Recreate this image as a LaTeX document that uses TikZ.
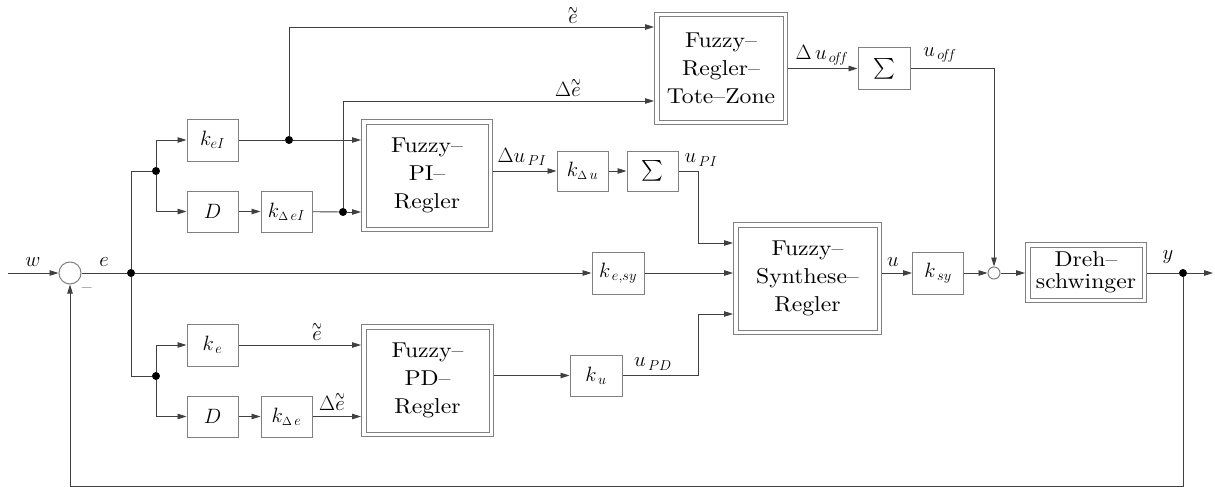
\documentclass[tikz,border=0pt]{standalone}
\usepackage{amsmath}
\usepackage{graphicx}
\usepackage{fontspec}
\newfontfamily\widefont{lmroman10-regular.otf}[FakeStretch=1.1,Ligatures=TeX]
\usetikzlibrary{arrows.meta,calc}
\definecolor{boxc}{gray}{0.5}
\definecolor{linec}{gray}{0.25}
\newcommand{\tle}{\mathord{\vbox{\offinterlineskip\halign{\hfil##\hfil\cr\scalebox{0.6}[1.2]{$\sim$}\cr\noalign{\kern-1.5pt}$e$\cr}}}}
\tikzset{
 x=1pt,y=-1pt,
 arr/.style={-{Triangle[length=9pt,width=5.5pt]}, draw=linec, line width=0.9pt},
 ln/.style={draw=linec, line width=0.9pt},
 blk/.style={draw=boxc, line width=1pt, inner sep=0pt, minimum width=51pt, minimum height=41pt, font=\huge},
 dblk/.style={draw=boxc, line width=1pt, double=white, double distance=3.5pt, inner sep=0pt, outer sep=2.75pt, align=center, font=\widefont\fontsize{21.5}{28}\selectfont},
 dot/.style={circle, fill=black, inner sep=0pt, minimum size=8pt},
 sumc/.style={circle, draw=boxc, line width=1pt, inner sep=0pt},
 lbl/.style={inner sep=0pt, font=\huge},
}
\begin{document}
\begin{tikzpicture}
\useasboundingbox (0,0) rectangle (1215,487);
% blocks
\node[blk, minimum height=42pt] (keI) at (212.5,140) {$k_{eI}$};
\node[blk] (D1) at (212.5,211.5) {$D$};
\node[blk] (kDeI) at (286.5,211.5) {$k_{\scriptscriptstyle\Delta\scriptstyle\,eI}$};
\node[blk, minimum height=40pt] (kDu) at (582.5,171) {$k_{\scriptscriptstyle\Delta\scriptstyle\,u}$};
\node[blk, minimum height=40pt] (S1) at (652.5,171) {$\sum$};
\node[blk, minimum width=52pt] (S2) at (884,68.5) {$\sum$};
\node[blk, minimum width=52pt, minimum height=42pt] (kesy) at (618,273) {$k_{\,e,sy}$};
\node[blk, minimum height=42pt] (ksy) at (938,273) {$k_{\,sy}$};
\node[blk, minimum height=42pt] (ke) at (212.5,345) {$k_{\,e}$};
\node[blk] (D2) at (212.5,416.5) {$D$};
\node[blk] (kDe) at (286.5,416.5) {$k_{\scriptscriptstyle\Delta\scriptstyle\,e}$};
\node[blk, minimum width=52pt] (ku) at (596,375.5) {$k_{\,u}$};
% fuzzy blocks
\node[dblk, minimum width=126.5pt, minimum height=107.5pt] (FPI) at (427,175.5) {Fuzzy--\\PI--\\Regler};
\node[dblk, minimum width=128.5pt, minimum height=107.5pt] (Tote) at (721,68.5) {Fuzzy--\\Regler--\\Tote--Zone};
\node[dblk, minimum width=143.5pt, minimum height=107.5pt] (FSyn) at (807.5,278.5) {Fuzzy--\\Synthese--\\Regler};
\node[dblk, minimum width=127.5pt, minimum height=107.5pt] (FPD) at (427.5,380.5) {Fuzzy--\\PD--\\Regler};
\node[dblk, minimum width=116.5pt, minimum height=55.5pt, font=\widefont\fontsize{21.5}{22}\selectfont] (Dreh) at (1086,272.5) {Dreh--\\schwinger};
% summing points
\node[sumc, minimum size=22pt] (sum) at (70,273) {};
\node[sumc, minimum size=12pt] (c2) at (994,273) {};
% junction dots
\node[dot] (j0) at (131,273) {};
\node[dot] (jt) at (156,171) {};
\node[dot] (jb) at (156,376) {};
\node[dot] (j1) at (289,140) {};
\node[dot] (j2) at (343,212) {};
\node[dot] (jy) at (1183,273) {};
% free ends / bends
\coordinate (win) at (8,273);
\coordinate (yout) at (1213,273);
\coordinate (fb) at (70,486);
\coordinate (b1) at (698,243);
\coordinate (b2) at (698,314);
% connectors
\draw[arr] (win) -- (sum);
\draw[ln] (sum) -- (j0);
\draw[arr] (j0) -- (kesy);
\draw[ln] (j0) |- (jt);
\draw[arr] (jt) |- (keI.west);
\draw[arr] (jt) |- (D1.west);
\draw[arr] (D1) -- (kDeI);
\draw[ln] (kDeI) -- (j2);
\draw[arr] (j2) -- (j2 -| FPI.west);
\draw[ln] (keI) -- (j1);
\draw[arr] (j1) -- (j1 -| FPI.west);
\draw[arr] (j1) |- (Tote.west |- 0,27);
\draw[arr] (j2) |- (Tote.west |- 0,101);
\draw[arr] (Tote) -- (S2);
\draw[arr] (S2) -| (c2);
\draw[arr] (FPI.east |- kDu) -- (kDu);
\draw[arr] (kDu) -- (S1);
\draw[arr] (S1) -| (b1) -- (b1 -| FSyn.west);
\draw[arr] (kesy.east) -- (kesy.east -| FSyn.west);
\draw[arr] (FSyn.east |- ksy) -- (ksy);
\draw[arr] (ksy) -- (c2);
\draw[arr] (c2) -- (Dreh.west |- c2);
\draw[ln] (Dreh.east |- jy) -- (jy);
\draw[arr] (jy) -- (yout);
\draw[arr] (jy) |- (fb) -- (sum);
\draw[ln] (j0) |- (jb);
\draw[arr] (jb) |- (ke.west);
\draw[arr] (jb) |- (D2.west);
\draw[arr] (D2) -- (kDe);
\draw[arr] (ke.east) -- (ke.east -| FPD.west);
\draw[arr] (kDe.east) -- (kDe.east -| FPD.west);
\draw[arr] (FPD.east |- ku) -- (ku);
\draw[arr] (ku) -| (b2) -- (b2 -| FSyn.west);
% labels
\node[lbl] (lw) at (33,262) {$w$};
\node[lbl] (le) at (104,262) {$e$};
\node[lbl] (lm) at (87,291) {--};
\node[lbl, anchor=base] (lt1) at (573,24) {$\tle$};
\node[lbl, anchor=base] (lt2) at (568,96) {$\Delta\tle$};
\node[lbl, anchor=base] (lt3) at (317,340) {$\tle$};
\node[lbl, anchor=base] (lt4) at (332,410) {$\Delta\tle$};
\node[lbl] (lduPI) at (522,157) {$\Delta u_{\,PI}$};
\node[lbl] (luPI) at (701,160) {$u_{\,PI}$};
\node[lbl] (lduoff) at (822,55) {$\Delta\, u_{\,o\!f\!f}$};
\node[lbl] (luoff) at (940,55) {$u_{\,o\!f\!f}$};
\node[lbl] (lu) at (893,262) {$u$};
\node[lbl] (ly) at (1168,257) {$y$};
\node[lbl] (luPD) at (653,364) {$u_{\,PD}$};
\end{tikzpicture}
\end{document}
